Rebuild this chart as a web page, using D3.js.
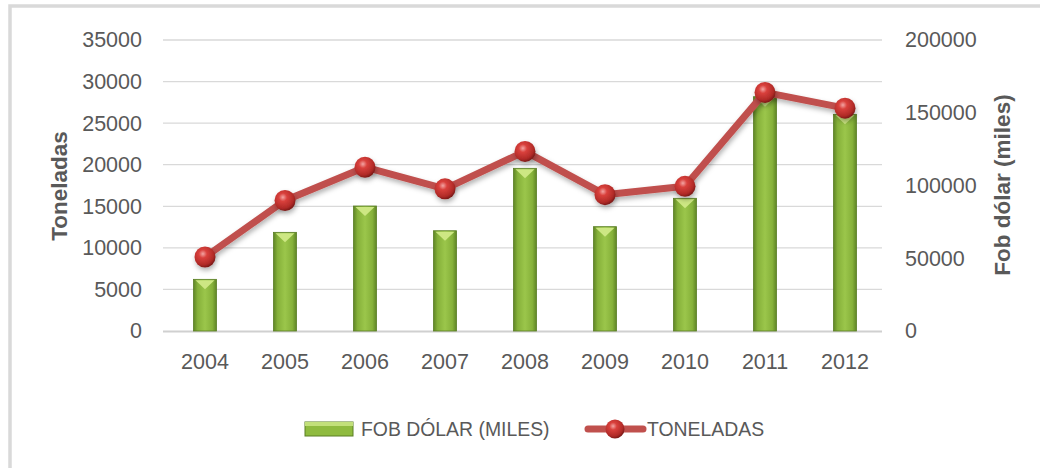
<!DOCTYPE html>
<meta charset="utf-8">
<style>
body { margin: 0; background: #fff; }
text { font-family: "Liberation Sans", Arial, sans-serif; fill: #595959; }
.grid line { stroke: #d9d9d9; stroke-width: 1.3px; }
.axis text { font-size: 21.5px; }
.title { font-size: 22.5px; font-weight: bold; }
.legend text { font-size: 19.4px; }
</style>
<body>
<script src="https://cdnjs.cloudflare.com/ajax/libs/d3/7.8.5/d3.min.js"></script>
<script>

var years = ["2004", "2005", "2006", "2007", "2008", "2009", "2010", "2011", "2012"];
// bars, read on the right axis
var fobDolar = [35500, 67800, 85900, 68900, 111800, 71700, 91200, 161000, 148900];
// line, read on the left axis
var toneladas = [8900, 15700, 19700, 17100, 21600, 16400, 17400, 28700, 26800];
var leftTicks = [0, 5000, 10000, 15000, 20000, 25000, 30000, 35000];
var rightTicks = [0, 50000, 100000, 150000, 200000];

var W = 1040, H = 468;
var plot = {left: 165, right: 885, top: 40, bottom: 331};

var svg = d3.select("body").append("svg")
    .attr("width", W)
    .attr("height", H);

var defs = svg.append("defs");

// bar body gradient, dark edges and lighter middle
var bg = defs.append("linearGradient").attr("id", "barGrad")
    .attr("x1", "0").attr("x2", "1").attr("y1", "0").attr("y2", "0");
bg.append("stop").attr("offset", "0%").attr("stop-color", "#5f8526");
bg.append("stop").attr("offset", "18%").attr("stop-color", "#86b13a");
bg.append("stop").attr("offset", "50%").attr("stop-color", "#9bc64b");
bg.append("stop").attr("offset", "82%").attr("stop-color", "#86b13a");
bg.append("stop").attr("offset", "100%").attr("stop-color", "#5f8526");

var mg = defs.append("radialGradient").attr("id", "ball")
    .attr("cx", "40%").attr("cy", "35%").attr("r", "65%");
mg.append("stop").attr("offset", "0%").attr("stop-color", "#f3a5a3");
mg.append("stop").attr("offset", "30%").attr("stop-color", "#d9403c");
mg.append("stop").attr("offset", "80%").attr("stop-color", "#b02a27");
mg.append("stop").attr("offset", "100%").attr("stop-color", "#7d1a18");

var sh = defs.append("filter").attr("id", "shadow")
    .attr("x", "-20%").attr("y", "-20%").attr("width", "140%").attr("height", "160%");
sh.append("feDropShadow").attr("dx", 1).attr("dy", 3).attr("stdDeviation", 2.5)
    .attr("flood-color", "#000").attr("flood-opacity", 0.3);

// chart border (only top and left visible in the picture)
svg.append("rect")
    .attr("x", 10).attr("y", 6)
    .attr("width", W + 20).attr("height", H + 20)
    .attr("fill", "none")
    .attr("stroke", "#d9d9d9")
    .attr("stroke-width", 3.5);

var x = d3.scaleBand().domain(years).range([plot.left, plot.right]);
var yL = d3.scaleLinear().domain([0, 35000]).range([plot.bottom, plot.top]);
var yR = d3.scaleLinear().domain([0, 200000]).range([plot.bottom, plot.top]);

// gridlines
svg.append("g").attr("class", "grid")
  .selectAll("line")
  .data(leftTicks.slice(1))
  .enter().append("line")
    .attr("x1", plot.left - 2).attr("x2", plot.right - 3)
    .attr("y1", function(d) { return yL(d); })
    .attr("y2", function(d) { return yL(d); });

svg.append("line")
    .attr("x1", plot.left - 2).attr("x2", plot.right - 3)
    .attr("y1", plot.bottom + 0.5).attr("y2", plot.bottom + 0.5)
    .attr("stroke", "#d0d0d0").attr("stroke-width", 2.2);

// axes
var gl = svg.append("g").attr("class", "axis")
    .attr("transform", "translate(" + (plot.left - 23) + ",0)")
    .call(d3.axisLeft(yL).tickValues(leftTicks).tickSize(0).tickPadding(0).tickFormat(d3.format("d")));
var gr = svg.append("g").attr("class", "axis")
    .attr("transform", "translate(" + (plot.right + 20) + ",0)")
    .call(d3.axisRight(yR).tickValues(rightTicks).tickSize(0).tickPadding(0).tickFormat(d3.format("d")));
var gx = svg.append("g").attr("class", "axis")
    .attr("transform", "translate(0," + (plot.bottom + 20) + ")")
    .call(d3.axisBottom(x).tickSize(0).tickPadding(0));
[gl, gr, gx].forEach(function(g) {
  g.select(".domain").remove();
  g.selectAll("text").attr("fill", "#595959").style("font-family", null);
  g.attr("font-family", null).attr("font-size", null);
});
gx.selectAll("text").attr("dy", "0.85em");

// axis titles
svg.append("text").attr("class", "title")
    .attr("transform", "translate(67,186) rotate(-90)")
    .attr("text-anchor", "middle")
    .text("Toneladas");
svg.append("text").attr("class", "title")
    .attr("transform", "translate(1010,185) rotate(-90)")
    .attr("text-anchor", "middle")
    .text("Fob dólar (miles)");

// bars
var bw = 23;
var bars = svg.append("g").selectAll("g")
    .data(fobDolar)
    .enter().append("g")
    .attr("transform", function(d, i) {
      return "translate(" + (x(years[i]) + x.bandwidth() / 2 - bw / 2) + ",0)";
    });
bars.append("rect")
    .attr("x", 0).attr("width", bw)
    .attr("y", function(d) { return yR(d); })
    .attr("height", function(d) { return plot.bottom - yR(d); })
    .attr("fill", "url(#barGrad)")
    .attr("stroke", "#5a7e24").attr("stroke-width", 0.8);
bars.append("path")
    .attr("d", function(d) {
      var t = yR(d) + 1;
      return "M2," + t + "L" + (bw - 2) + "," + t + "L" + (bw / 2) + "," + (t + 9) + "Z";
    })
    .attr("fill", "#cde783");

// line
var line = d3.line()
    .x(function(d, i) { return x(years[i]) + x.bandwidth() / 2; })
    .y(function(d) { return yL(d); });

svg.append("path")
    .datum(toneladas)
    .attr("d", line)
    .attr("fill", "none")
    .attr("stroke", "#c0504d")
    .attr("stroke-width", 7)
    .attr("stroke-linejoin", "round")
    .attr("filter", "url(#shadow)");

svg.append("g").selectAll("circle")
    .data(toneladas)
    .enter().append("circle")
    .attr("cx", function(d, i) { return x(years[i]) + x.bandwidth() / 2; })
    .attr("cy", function(d) { return yL(d); })
    .attr("r", 10.5)
    .attr("fill", "url(#ball)")
    .attr("filter", "url(#shadow)");

// legend
var lg = svg.append("g").attr("class", "legend");
lg.append("rect")
    .attr("x", 305).attr("y", 422).attr("width", 48).attr("height", 14)
    .attr("fill", "#8fbb3f").attr("stroke", "#5a7e24").attr("stroke-width", 1);
lg.append("rect")
    .attr("x", 305).attr("y", 422).attr("width", 48).attr("height", 4)
    .attr("fill", "#c2e07a");
lg.append("text").attr("x", 361).attr("y", 429).attr("dy", "0.35em").text("FOB DÓLAR (MILES)");
lg.append("line")
    .attr("x1", 588).attr("x2", 643).attr("y1", 429).attr("y2", 429)
    .attr("stroke", "#c0504d").attr("stroke-width", 7).attr("stroke-linecap", "round");
lg.append("circle")
    .attr("cx", 615).attr("cy", 429).attr("r", 9.5)
    .attr("fill", "url(#ball)");
lg.append("text").attr("x", 647).attr("y", 429).attr("dy", "0.35em").text("TONELADAS");

</script>
</body>
